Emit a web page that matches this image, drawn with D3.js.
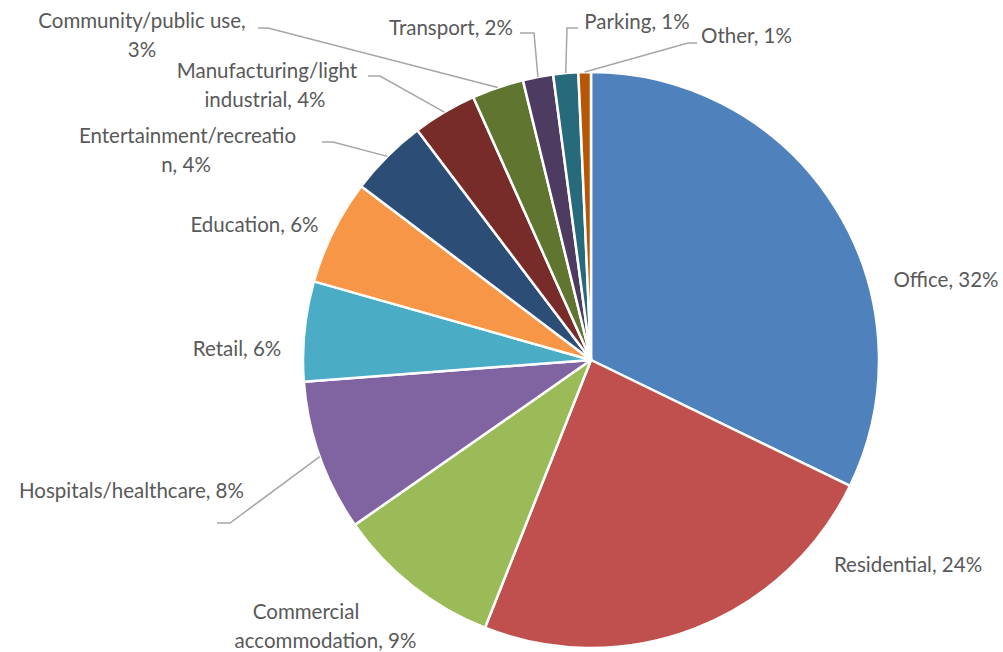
<!DOCTYPE html>
<html>
<head>
<meta charset="utf-8">
<script src="https://cdn.jsdelivr.net/npm/d3@7"></script>
<style>
  html, body { margin: 0; padding: 0; background: #ffffff; }
  svg { display: block; }
  text { font-family: Lato, "Open Sans", sans-serif; fill: #595959; }
</style>
</head>
<body>
<svg id="chart" width="1003" height="652"></svg>
<script>
// ---- data ----
const categories = ["Office", "Residential", "Commercial accommodation", "Hospitals/healthcare",
  "Retail", "Education", "Entertainment/recreation", "Manufacturing/light industrial",
  "Community/public use", "Transport", "Parking", "Other"];
const shares = [32.2, 23.8, 9.3, 8.5, 5.6, 5.9, 4.4, 3.6, 2.9, 1.7, 1.4, 0.7];
const labelLines = [
  ["Office, 32%"],
  ["Residential, 24%"],
  ["Commercial", "accommodation, 9%"],
  ["Hospitals/healthcare, 8%"],
  ["Retail, 6%"],
  ["Education, 6%"],
  ["Entertainment/recreatio", "n, 4%"],
  ["Manufacturing/light", "industrial, 4%"],
  ["Community/public use,", "3%"],
  ["Transport, 2%"],
  ["Parking, 1%"],
  ["Other, 1%"]
];
const colors = ["#4F81BD", "#C0504D", "#9BBB59", "#8064A2", "#4BACC6", "#F79646",
  "#2C4D75", "#772C2A", "#5F7530", "#4D3B62", "#276A7C", "#B65708"];

// ---- layout (label anchors: centre x, baseline of first line; leader start + elbow) ----
const labelPos = [
  [946, 287], [908, 572], [306, 619, 325.5], [131.5, 498], [237, 356], [254.5, 232],
  [187.5, 143, 186], [267, 78, 265], [142, 28, 142], [451, 35], [637, 29], [746.5, 43]
];
const leaders = {
  3: [[217, 523], [230, 523]],
  6: [[322, 142], [333, 142]],
  7: [[368, 76], [380, 76]],
  8: [[258, 28], [268, 28]],
  9: [[520, 33], [534, 33]],
  10: [[578, 28], [567, 28]],
  11: [[697, 43], [688, 43]]
};

const cx = 591, cy = 360, R = 288, lineH = 28.5, fontSize = 20.5;

const svg = d3.select("#chart");
const g = svg.append("g").attr("transform", `translate(${cx},${cy})`);

const data = categories.map((c, i) => ({ name: c, value: shares[i], i }));
const pie = d3.pie().sort(null).value(d => d.value).startAngle(0).endAngle(2 * Math.PI);
const arcs = pie(data);
const arc = d3.arc().innerRadius(0).outerRadius(R);

g.selectAll("path.slice").data(arcs).enter().append("path")
  .attr("class", "slice")
  .attr("d", arc)
  .attr("fill", d => colors[d.data.i])
  .attr("stroke", "#ffffff")
  .attr("stroke-width", 2.5)
  .attr("stroke-linejoin", "round");

// leader lines
const line = d3.line();
arcs.forEach(a => {
  const L = leaders[a.data.i];
  if (!L) return;
  const mid = (a.startAngle + a.endAngle) / 2;
  const end = [cx + R * Math.sin(mid), cy - R * Math.cos(mid)];
  svg.append("path")
    .attr("d", line([L[0], L[1], end]))
    .attr("fill", "none")
    .attr("stroke", "#A6A6A6")
    .attr("stroke-width", 1.5);
});

// labels
labelLines.forEach((lines, i) => {
  const p = labelPos[i];
  lines.forEach((t, k) => {
    svg.append("text")
      .attr("x", k === 0 ? p[0] : p[2])
      .attr("y", p[1] + k * lineH)
      .attr("text-anchor", "middle")
      .attr("font-size", fontSize)
      .text(t);
  });
});
</script>
</body>
</html>
